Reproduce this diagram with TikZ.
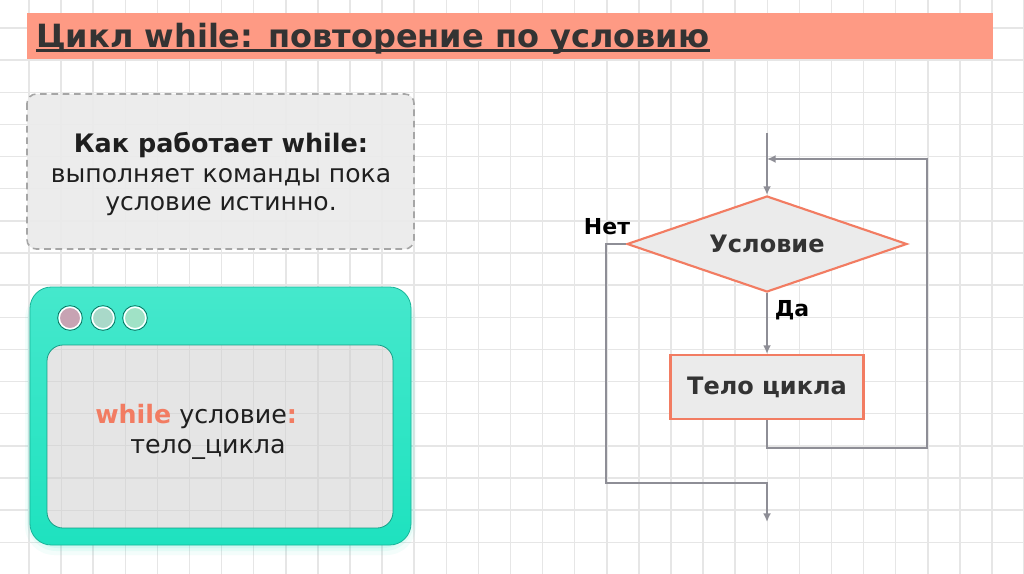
\documentclass[tikz,border=0pt]{standalone}
\usepackage{fontspec}
\setmainfont{DejaVu Sans}
\usetikzlibrary{shapes.geometric,arrows.meta,positioning}
\definecolor{banner}{HTML}{FE9A84}
\definecolor{coral}{HTML}{F27C62}
\definecolor{inkgray}{HTML}{333333}
\definecolor{wire}{HTML}{8E8E96}
\definecolor{gridc}{HTML}{E6E6E6}
\definecolor{gridin}{HTML}{D9D9D9}
\definecolor{panel}{HTML}{EBEBEB}
\definecolor{screen}{HTML}{E5E5E5}
\definecolor{tealA}{HTML}{45E8CC}
\definecolor{tealB}{HTML}{1EE2BF}
\newcommand\fsz[1]{\fontsize{#1}{#1}\selectfont}
\begin{document}
\begin{tikzpicture}[x=0.75pt,y=-0.75pt,
  flow/.style={draw=wire,line width=2.2pt,-{Latex[length=6.5pt,width=6pt]}},
  block/.style={fill=panel,draw=coral,line width=1.6pt,text=inkgray,
    font=\fsz{18}\bfseries},
  tag/.style={font=\fsz{16.5}\bfseries,text=black},
  note/.style={font=\fsz{18.8},text=black!88,anchor=base}]
\useasboundingbox (0,0) rectangle (1024,574);
\fill[white] (0,0) rectangle (1024,574);
% squared paper
\foreach \i in {0,...,31} \draw[gridc,line width=1.1pt] (29+32.1*\i,0) -- (29+32.1*\i,574);
\foreach \j in {0,...,17} \draw[gridc,line width=1.1pt] (0,28+32.14*\j) -- (1024,28+32.14*\j);
% title banner
\fill[banner] (27,13) rectangle (993,59);
\node[inner sep=0,anchor=base west,text=inkgray,font=\fsz{24}\bfseries] (title) at (36,47.5)
  {Цикл while: повторение по условию};
\draw[inkgray,line width=2.2pt] ([yshift=-2.4pt]title.base west) -- ([yshift=-2.4pt]title.base east);
% note box
\draw[draw=black!35,fill=panel,fill opacity=0.9,line width=1.2pt,dash pattern=on 5pt off 3.5pt,
  rounded corners=7pt] (27,94) rectangle (414,249);
\node[note,font=\fsz{19.1}\bfseries] (howto) at (221,153) {Как работает while:};
\node[note] (line2) at (221,183) {выполняет команды пока};
\node[note] (line3) at (221,210) {условие истинно.};
% code window
\foreach \k/\o in {10/0.05,6/0.07,3/0.09}
  \fill[tealB,opacity=\o,rounded corners=22pt] (30-\k/2,290) rectangle (411+\k/2,545+\k);
\draw[draw=tealB!80!black,line width=0.6pt,top color=tealA,bottom color=tealB,rounded corners=16pt]
  (30,287) rectangle (411,545);
\begin{scope}
  \clip[rounded corners=12pt] (47,345) rectangle (393,528);
  \fill[screen] (47,345) rectangle (393,528);
  \foreach \i in {1,...,12} \draw[gridin,line width=0.9pt] (29+32.1*\i,345) -- (29+32.1*\i,528);
  \foreach \j in {10,...,16} \draw[gridin,line width=0.9pt] (47,28+32.14*\j) -- (393,28+32.14*\j);
\end{scope}
\draw[draw=tealB!70!black,line width=0.6pt,rounded corners=12pt] (47,345) rectangle (393,528);
\foreach \cx/\cc in {70/C7A3B3,103/A9D9C9,135/A0E2C6}{
  \definecolor{dot}{HTML}{\cc}
  \draw[draw=tealB!45!black,line width=0.5pt] (\cx,318) circle (9.3pt);
  \draw[draw=white,line width=1.1pt,fill=dot] (\cx,318) circle (8.1pt);
}
\node[note,anchor=base west,inner sep=0,font=\fsz{19}] (code1) at (95,423)
  {\textcolor{coral}{\bfseries while} условие\textcolor{coral}{\bfseries :}};
\node[note,anchor=base west,inner sep=0,font=\fsz{19}] (code2) at (130,453) {тело\_цикла};
% flowchart
\coordinate (entry) at (767,133);
\coordinate (join) at (767,159);
\coordinate (rtB) at (927,448);
\coordinate (ltB) at (606,483);
\coordinate (exit) at (767,522);
\node[block,shape=diamond,inner sep=0,aspect=2.92,minimum width=210pt,minimum height=72pt] (cond) at (767,244) {Условие};
\node[block,minimum width=144.75pt,minimum height=48pt,inner sep=0] (body) at (767,387) {Тело цикла};
\node[tag] (no) at (607,227) {Нет};
\node[tag] (yes) at (792,310) {Да};
\draw[flow] (entry) -- (cond.north);
\draw[flow] (cond.south) -- (body.north);
\draw[flow] (body.south) |- (rtB) |- (join);
\draw[flow] (cond.west) -| (ltB) -| (exit);
\end{tikzpicture}
\end{document}
